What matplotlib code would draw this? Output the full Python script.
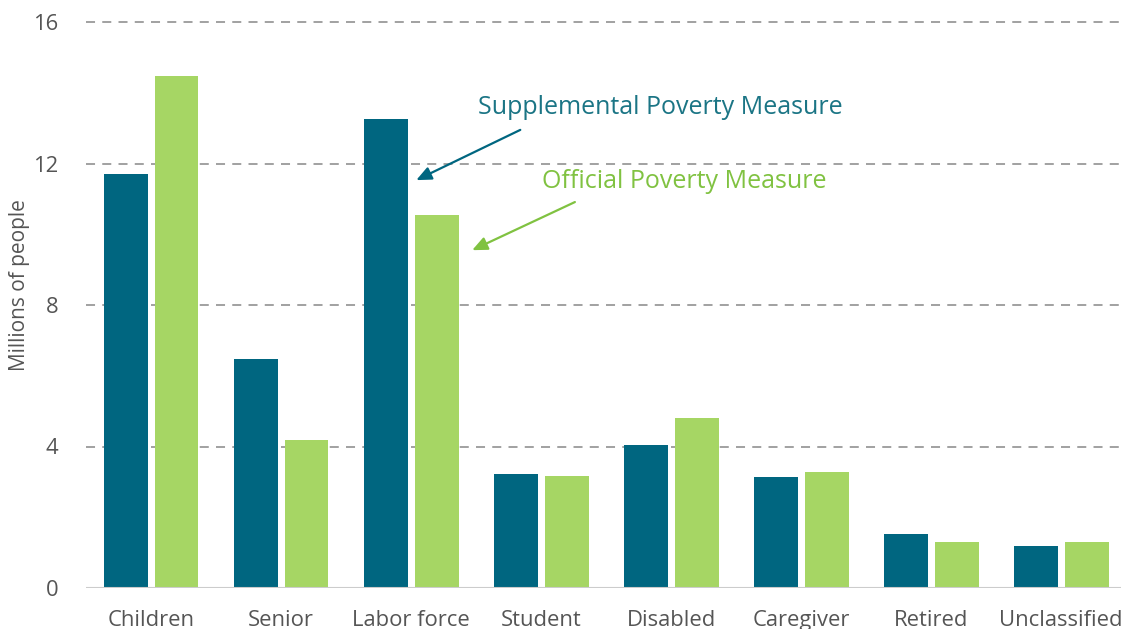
import matplotlib
matplotlib.use("Agg")
import matplotlib.pyplot as plt
import numpy as np

categories = ["Children", "Senior", "Labor force", "Student", "Disabled",
              "Caregiver", "Retired", "Unclassified"]
spm = [11.7, 6.47, 13.25, 3.22, 4.04, 3.14, 1.53, 1.19]
opm = [14.46, 4.18, 10.54, 3.16, 4.8, 3.28, 1.3, 1.3]
yticks = [0, 4, 8, 12, 16]

SPM_C = "#006680"
OPM_C = "#a6d664"
SPM_T = "#1b7585"
OPM_T = "#80c241"
plt.rcParams['font.family'] = ['Open Sans', 'DejaVu Sans']

fig = plt.figure(figsize=(11.21, 6.29), dpi=100)
ax = fig.add_axes([86/1121, 41/629, 1 - 86/1121, (588-22)/629])

x = np.arange(len(categories))
w = 0.338
off = 0.196
ax.bar(x - off, spm, width=w, color=SPM_C, zorder=3)
ax.bar(x + off, opm, width=w, color=OPM_C, zorder=3)

ax.set_xlim(-0.5, 7.46)
ax.set_ylim(0, 16)
ax.set_yticks(yticks)
ax.set_yticklabels([str(t) for t in yticks])
ax.set_xticks(x)
ax.set_xticklabels(categories)
for t in yticks[1:]:
    ax.axhline(t, color="#9a9a9a", lw=1.3, ls=(0, (5, 4)), zorder=1, clip_on=False)
ax.axhline(0, color="#cccccc", lw=1.5, zorder=4)

for s in ax.spines.values():
    s.set_visible(False)
ax.tick_params(axis='both', length=0, labelsize=15.8, colors="#555555")
ax.tick_params(axis='y', pad=20)
ax.tick_params(axis='x', pad=16)

fig.text(20/1121, 1 - 285/629, "Millions of people", rotation=90,
         ha="center", va="center", fontsize=15, color="#555555")

ax.text(3.92, 13.57, "Supplemental Poverty Measure", ha="center", va="center",
        fontsize=18, color=SPM_T)
ax.text(4.1, 11.48, "Official Poverty Measure", ha="center", va="center",
        fontsize=18, color=OPM_T)
ax.annotate("", xy=(2.04, 11.53), xytext=(2.84, 12.95),
            arrowprops=dict(arrowstyle="-|>,head_length=0.9,head_width=0.4",
                            color=SPM_C, lw=1.6, shrinkA=0, shrinkB=0))
ax.annotate("", xy=(2.47, 9.55), xytext=(3.26, 10.91),
            arrowprops=dict(arrowstyle="-|>,head_length=0.9,head_width=0.4",
                            color=OPM_T, lw=1.6, shrinkA=0, shrinkB=0))

fig.savefig("out.png", dpi=100)
